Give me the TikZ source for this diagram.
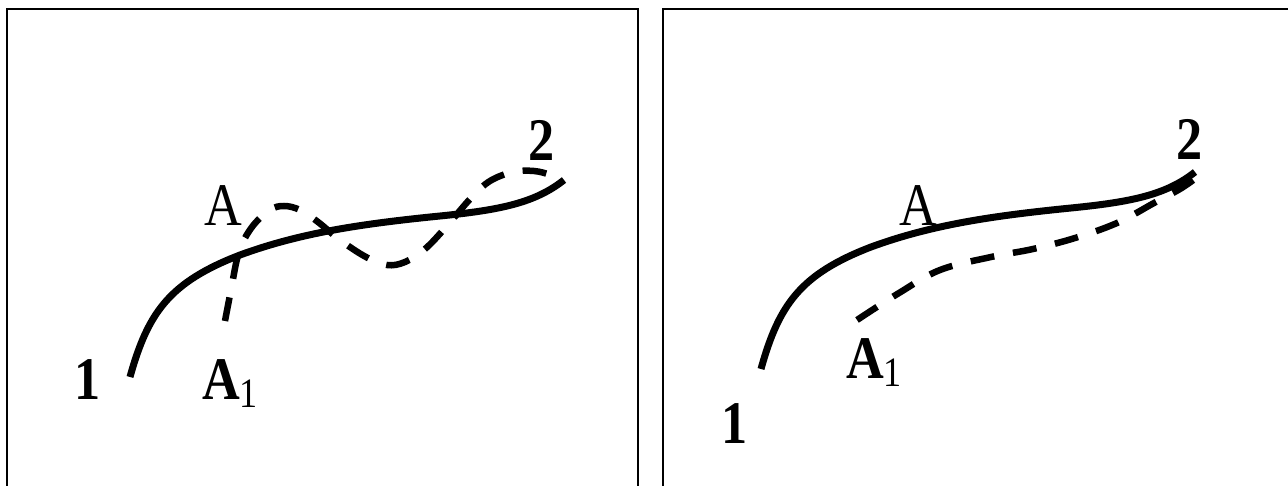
\documentclass[tikz,border=0pt]{standalone}
\usepackage{fontspec}
\setmainfont{Liberation Serif}
\tikzset{
  frame/.style={draw=black, line width=1.8pt},
  solidcurve/.style={draw=black, line width=7pt, line cap=butt},
  dashcurve/.style={draw=black, line width=6.5pt, dash pattern=on 24pt off 19pt},
  lab/.style={inner sep=0pt, anchor=base, font=\fontsize{55}{55}\selectfont\bfseries},
  labA/.style={inner sep=0pt, anchor=base, font=\fontsize{55}{55}\selectfont},
}
\newcommand{\tallt}[1]{\scalebox{0.95}[1.1]{#1}}
\newcommand{\subone}{\tallt{\textbf{A}\raisebox{-8pt}{\fontsize{38}{38}\selectfont\mdseries 1}}}
\begin{document}
\begin{tikzpicture}[x=1pt, y=-1pt]
\useasboundingbox (0,0) rectangle (1288,486);
% frames
\draw[frame] (7,500) -- (7,9) -- (638,9) -- (638,500);
\draw[frame] (663,500) -- (663,9) -- (1300,9);
% ---------- left panel ----------
\draw[solidcurve] (130,377) .. controls (148,312) and (170,282) .. (240,255)
  .. controls (300,233) and (360,224) .. (440,216)
  .. controls (500,210) and (535,203) .. (564,180);
\draw[dashcurve] plot[smooth, tension=0.6] coordinates {
 (225,321) (231,290) (239,252) (252,227) (270,210) (284,206) (300,210)
 (318,222) (340,240) (366,257) (387,265) (405,262) (425,249) (446,227)
 (471,198) (490,181) (513,172) (534,171) (551,175) (564,180)};
\node[lab] (l1) at (88,399) {\tallt{1}};
\node[labA] (lA) at (223,226) {\tallt{A}};
\node[anchor=base west, inner sep=0pt, font=\fontsize{55}{55}\selectfont] (lA1) at (202,399) {\subone};
\node[lab] (l2) at (542,161) {\tallt{2}};
% ---------- right panel ----------
\draw[solidcurve] (761,369) .. controls (779,304) and (801,274) .. (871,247)
  .. controls (931,225) and (991,216) .. (1071,208)
  .. controls (1131,202) and (1166,195) .. (1195,172);
\draw[dashcurve] plot[smooth, tension=0.6] coordinates {
 (857,320) (899,293) (940,270) (991,257) (1033,249) (1075,238) (1117,223)
 (1154,203) (1180,189) (1196,178)};
\node[lab] (r1) at (735,443) {\tallt{1}};
\node[labA] (rA) at (918,226) {\tallt{A}};
\node[anchor=base west, inner sep=0pt, font=\fontsize{55}{55}\selectfont] (rA1) at (846,378) {\subone};
\node[lab] (r2) at (1190,160) {\tallt{2}};
\end{tikzpicture}
\end{document}
